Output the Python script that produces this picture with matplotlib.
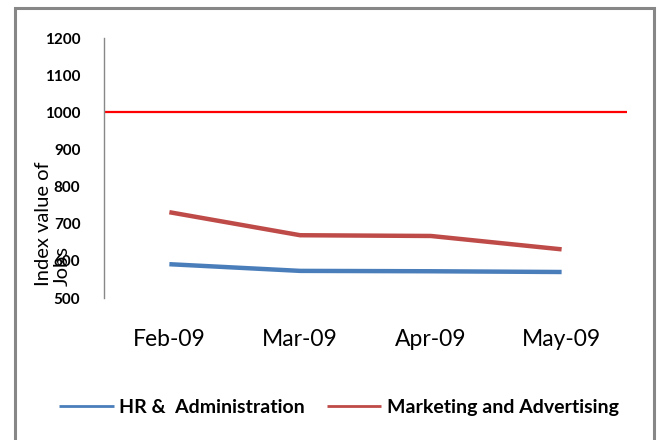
import matplotlib.pyplot as plt
from matplotlib.patches import Rectangle

months = ["Feb-09", "Mar-09", "Apr-09", "May-09"]
hr_admin = [591, 573, 572, 570]
marketing = [731, 669, 667, 631]
baseline = 1000
y_ticks = [500, 600, 700, 800, 900, 1000, 1100, 1200]

plt.rcParams['font.family'] = ['Lato', 'DejaVu Sans']

W, H = 659, 440
fig = plt.figure(figsize=(W / 100, H / 100), dpi=100)
ax = fig.add_axes([104 / W, 1 - 298 / H, (627 - 104) / W, (298 - 38) / H])

x = range(len(months))
ax.plot(x, hr_admin, color='#4A7EBB', lw=3.2, solid_capstyle='butt', label='HR &  Administration')
ax.plot(x, marketing, color='#BE4B48', lw=3.2, solid_capstyle='butt', label='Marketing and Advertising')
ax.axhline(baseline, color='#FF0000', lw=1.6)

ax.set_xlim(-0.5, len(months) - 0.5)
ax.set_ylim(500, 1200)
ax.set_yticks(y_ticks)
ax.set_yticklabels([str(v) for v in y_ticks], fontsize=11, fontweight='bold')
ax.set_xticks(list(x))
ax.set_xticklabels(months, fontsize=16.5)
ax.tick_params(axis='y', length=0, pad=17)
ax.tick_params(axis='x', length=0, pad=22)

for s in ['top', 'right', 'bottom']:
    ax.spines[s].set_visible(False)
ax.spines['left'].set_color('#888888')
ax.spines['left'].set_linewidth(1)

fig.text(53 / W, 1 - 286 / H, "Index value of\nJobs", rotation=90, ha='center',
         va='bottom', multialignment='left', fontsize=14.5, linespacing=1.1)

fig.legend(loc='center', bbox_to_anchor=(339 / W, 1 - 407 / H), ncol=2, frameon=False,
           prop={'size': 14, 'weight': 'bold'}, handlelength=2.8, handletextpad=0.3,
           columnspacing=1.1)
for line in fig.legends[0].get_lines():
    line.set_linewidth(2)

fig.patches.append(Rectangle((15 / W, -0.05), (654 - 15) / W, 1.05 - 8 / H,
                             transform=fig.transFigure, fill=False,
                             edgecolor='#878787', lw=2.2))

fig.savefig("out.png", dpi=100)
